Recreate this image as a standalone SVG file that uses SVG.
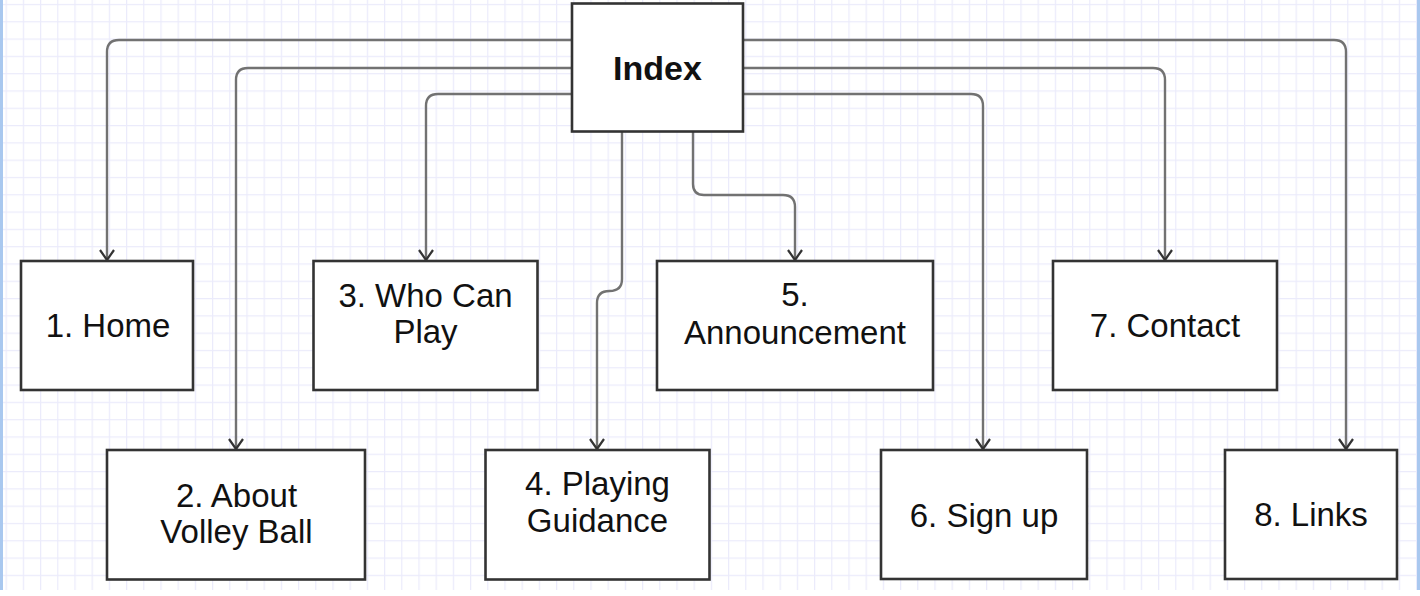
<svg xmlns="http://www.w3.org/2000/svg" width="1420" height="596" viewBox="0 0 1420 596">
<style>
.box{fill:#ffffff;stroke:#333333;stroke-width:2.6}
.lbl{font-family:"Liberation Sans",Arial,Helvetica,sans-serif;font-size:33px;fill:#111111;text-anchor:middle}
.bold{font-weight:bold;font-size:34px}
.edge{fill:none;stroke:#727272;stroke-width:2.4;marker-end:url(#arr)}
</style>
<defs>
<pattern id="grid" patternUnits="userSpaceOnUse" x="5.6" y="3.9" width="17.2" height="17.3">
<path d="M0.6,0 V17.3 M0,0.6 H17.2" fill="none" stroke="#ebebfb" stroke-width="1.2"/>
</pattern>
<marker id="arr" markerUnits="userSpaceOnUse" viewBox="0 0 24 24" markerWidth="24" markerHeight="24" refX="12" refY="12" orient="auto">
<path d="M2,5 L12,12 L2,19" fill="none" stroke="#333333" stroke-width="2.2"/>
</marker>
</defs>
<rect x="0" y="0" width="1420" height="596" fill="#ffffff"/>
<rect x="0" y="0" width="1420" height="590" fill="url(#grid)"/>
<line x1="1.5" y1="0" x2="1.5" y2="590" stroke="#a9c8ef" stroke-width="3"/>
<line x1="1418.5" y1="0" x2="1418.5" y2="590" stroke="#a9c8ef" stroke-width="3"/>
<g id="connectors">
<path class="edge" d="M571.7,40 H119 Q107,40 107,52 V260"/>
<path class="edge" d="M571.7,68 H248 Q236,68 236,80 V449"/>
<path class="edge" d="M571.7,94 H438 Q426,94 426,106 V260"/>
<path class="edge" d="M622,132 V279 Q622,291 609.5,291 Q597,291 597,303 V449"/>
<path class="edge" d="M693,132 V184 Q693,195 704,195 H783 Q795,195 795,207 V260"/>
<path class="edge" d="M743.3,94 H971 Q983,94 983,106 V449"/>
<path class="edge" d="M743.3,68 H1153 Q1165,68 1165,80 V260"/>
<path class="edge" d="M743.3,40 H1334 Q1346,40 1346,52 V449"/>
</g>
<g id="index">
<rect class="box" x="572" y="3.5" width="171" height="128"/>
<text class="lbl bold" x="657.5" y="80">Index</text>
</g>
<g id="home">
<rect class="box" x="21" y="261" width="172" height="129"/>
<text class="lbl" x="108" y="336.7">1. Home</text>
</g>
<g id="about">
<rect class="box" x="107" y="450" width="258" height="129.5"/>
<text class="lbl" x="236.5" y="506.7">2. About</text>
<text class="lbl" x="236.5" y="543.3">Volley Ball</text>
</g>
<g id="whocanplay">
<rect class="box" x="313.5" y="261" width="224" height="129"/>
<text class="lbl" x="425.5" y="306.7">3. Who Can</text>
<text class="lbl" x="425.5" y="343">Play</text>
</g>
<g id="playing">
<rect class="box" x="485.5" y="450" width="224" height="129.5"/>
<text class="lbl" x="597.5" y="495">4. Playing</text>
<text class="lbl" x="597.5" y="531.7">Guidance</text>
</g>
<g id="announcement">
<rect class="box" x="657" y="261" width="276" height="129"/>
<text class="lbl" x="795" y="306">5.</text>
<text class="lbl" x="795" y="344">Announcement</text>
</g>
<g id="signup">
<rect class="box" x="881" y="450" width="206" height="129"/>
<text class="lbl" x="984" y="526.7">6. Sign up</text>
</g>
<g id="contact">
<rect class="box" x="1053" y="261" width="224" height="129"/>
<text class="lbl" x="1165" y="336.7">7. Contact</text>
</g>
<g id="links">
<rect class="box" x="1225" y="450" width="172" height="129"/>
<text class="lbl" x="1311" y="526">8. Links</text>
</g>
</svg>
